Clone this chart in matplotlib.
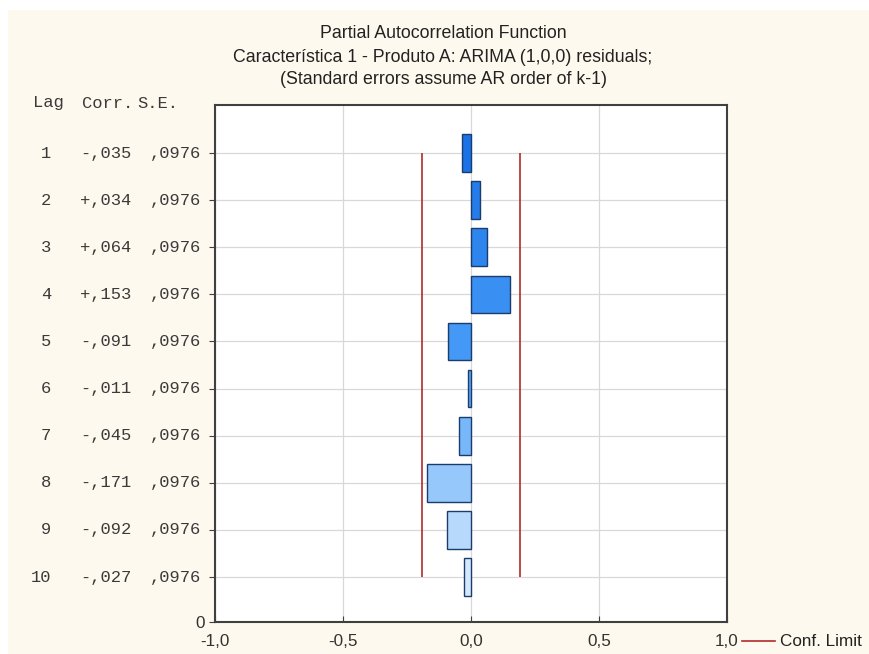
import matplotlib
matplotlib.use("Agg")
import matplotlib.pyplot as plt
from matplotlib.colors import LinearSegmentedColormap
from matplotlib.patches import Rectangle
import numpy as np

# dados
lags = [1, 2, 3, 4, 5, 6, 7, 8, 9, 10]
corr = [-0.035, 0.034, 0.064, 0.153, -0.091, -0.011, -0.045, -0.171, -0.092, -0.027]
corr_txt = ["-,035", "+,034", "+,064", "+,153", "-,091", "-,011", "-,045", "-,171", "-,092", "-,027"]
se = [0.0976] * 10
se_txt = [",0976"] * 10
conf_limit = 1.96 * 0.0976
x_ticks = [-1.0, -0.5, 0.0, 0.5, 1.0]
x_labels = ["-1,0", "-0,5", "0,0", "0,5", "1,0"]

W, H = 870, 654
fig = plt.figure(figsize=(W / 100, H / 100), dpi=100)
fig.patch.set_facecolor("white")

def fx(px):  # pixel -> coordenada da figura
    return px / W

def fy(py):
    return 1 - py / H

# fundo creme
fig.patches.append(Rectangle((fx(8), 0), 1, fy(10), transform=fig.transFigure,
                             facecolor="#FEF9EE", edgecolor="none", zorder=-10))

ax = fig.add_axes([fx(215), fy(622), fx(727) - fx(215), fy(105) - fy(622)])
ax.set_zorder(1)
ax.set_facecolor("white")

cmap = LinearSegmentedColormap.from_list("pacf", ["#1A72E6", "#4A9EF8", "#D4E9FD"])
cols = [cmap(i / (len(lags) - 1)) for i in range(len(lags))]

ax.barh(lags, corr, height=0.8, color=cols, edgecolor="#1C3C6C", linewidth=1.0, zorder=3)

# limites de confiança
ax.vlines([-conf_limit, conf_limit], lags[0], lags[-1], color="#B22A2A", linewidth=1.2, zorder=4)

ax.set_xlim(-1, 1)
ax.set_ylim(10.955, -0.02)
ax.set_xticks(x_ticks)
ax.set_xticklabels(x_labels, fontsize=12.3, color="#333333", family="Liberation Sans")
ax.set_yticks(lags + [10.955])
ax.set_yticklabels([""] * len(lags) + ["0"], fontsize=12.3, color="#333333", family="Liberation Sans")
ax.tick_params(axis="y", direction="out", length=4, color="#404040")
ax.tick_params(axis="x", direction="in", length=4, color="#404040", pad=9)

ax.grid(True, color="#D8D8D8", linewidth=0.9, zorder=0)
ax.set_axisbelow(True)
for s in ax.spines.values():
    s.set_color("#404040")
    s.set_linewidth(1.5)

# tabela à esquerda
mono = dict(family="Liberation Mono", fontsize=12.3, color="#3A3A3A")
fig.text(fx(33), fy(103), "Lag", ha="left", va="center", **mono)
fig.text(fx(82), fy(103), "Corr.", ha="left", va="center", **mono)
fig.text(fx(137), fy(103), "S.E.", ha="left", va="center", **mono)
fig.canvas.draw()
for i, lag in enumerate(lags):
    ypix = ax.transData.transform((0, lag))[1]
    yf = ypix / H
    fig.text(fx(51), yf, str(lag), ha="right", va="center", **mono)
    fig.text(fx(80), yf, corr_txt[i], ha="left", va="center", **mono)
    fig.text(fx(150), yf, se_txt[i], ha="left", va="center", **mono)

# título
sans = dict(family="Liberation Sans", fontsize=12.8, color="#222222", ha="center", va="center")
fig.text(fx(443), fy(34), "Partial Autocorrelation Function", **sans)
fig.text(fx(443), fy(57), "Característica 1 - Produto A: ARIMA (1,0,0) residuals;", **sans)
fig.text(fx(443), fy(80), "(Standard errors assume AR order of k-1)", **sans)

# legenda
fig.lines.append(plt.Line2D([fx(742), fx(775)], [fy(641), fy(641)], transform=fig.transFigure,
                            color="#B22A2A", linewidth=1.2))
fig.text(fx(780), fy(641), "Conf. Limit", family="Liberation Sans", fontsize=12.3,
         color="#222222", ha="left", va="center")

fig.savefig("out.png", dpi=100)
